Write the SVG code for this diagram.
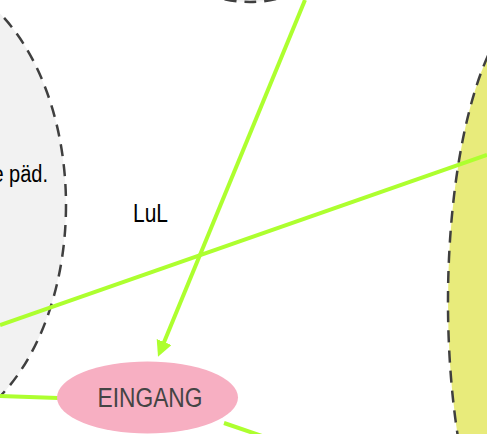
<svg xmlns="http://www.w3.org/2000/svg" width="487" height="434" viewBox="0 0 487 434">
  <style>
    .zone { stroke: #3f3f3f; stroke-width: 2.5; stroke-dasharray: 12 8; }
    .edge { stroke: #adff2f; stroke-width: 4; fill: none; }
    .lbl { font-family: "Liberation Sans", Arial, sans-serif; fill: #000; }
  </style>
  <defs>
    <marker id="arrow" viewBox="0 0 10 10" refX="1" refY="5" markerWidth="4" markerHeight="4" orient="auto" markerUnits="strokeWidth">
      <path d="M0,0 L10,5 L0,10 z" fill="#adff2f"/>
    </marker>
  </defs>

  <rect width="487" height="434" fill="#fff"/>

  <g id="zone-top">
    <ellipse class="zone" cx="250" cy="-100" rx="110" ry="102" fill="#f2f2f2"/>
  </g>

  <g id="zone-left">
    <ellipse class="zone" cx="-82" cy="205" rx="148" ry="230" fill="#f2f2f2"/>
    <text class="lbl" transform="translate(48,182) scale(0.87,1)" font-size="23" text-anchor="end">e päd.</text>
  </g>

  <g id="zone-right">
    <ellipse class="zone" cx="541" cy="302" rx="93" ry="300" fill="#e8eb7b"/>
  </g>

  <g id="lul">
    <text class="lbl" x="133" y="222" font-size="25" textLength="35" lengthAdjust="spacingAndGlyphs">LuL</text>
  </g>

  <g id="connectors">
    <line class="edge" x1="305" y1="0" x2="163.5" y2="343.5" marker-end="url(#arrow)"/>
    <line class="edge" x1="0" y1="325" x2="487" y2="155"/>
    <line class="edge" x1="0" y1="396" x2="58" y2="398"/>
    <line class="edge" x1="224" y1="423" x2="262" y2="436"/>
  </g>

  <g id="eingang">
    <ellipse cx="147.5" cy="397.5" rx="90.5" ry="36" fill="#f7afc2"/>
    <text x="150" y="407" font-family="'Liberation Sans', Arial, sans-serif" font-size="27" fill="#444" text-anchor="middle" textLength="105" lengthAdjust="spacingAndGlyphs">EINGANG</text>
  </g>
</svg>
